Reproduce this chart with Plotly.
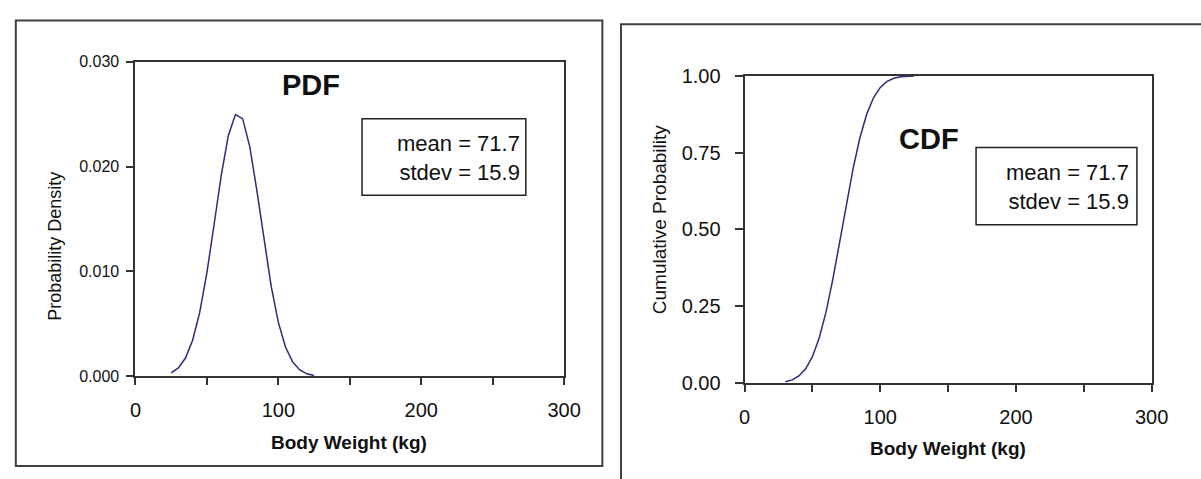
import plotly.graph_objects as go

# ---- data ----
weight_kg = [25, 30, 35, 40, 45, 50, 55, 60, 65, 70, 75, 80, 85, 90, 95, 100, 105, 110, 115, 120, 125]
pdf_vals = [0.00034, 0.00081, 0.00175, 0.00344, 0.00612, 0.00989, 0.01445, 0.01913, 0.02296, 0.02495,
            0.02456, 0.02189, 0.01769, 0.01294, 0.00857, 0.00515, 0.00280, 0.00138, 0.00062, 0.00025, 0.00009]
cdf_weight_kg = [30, 35, 40, 45, 50, 55, 60, 65, 70, 75, 80, 85, 90, 95, 100, 105, 110, 115, 120, 125]
cdf_vals = [0.0044, 0.0105, 0.0231, 0.0466, 0.0861, 0.1468, 0.2309, 0.3369, 0.4574, 0.5822,
            0.6992, 0.7985, 0.8751, 0.9286, 0.9625, 0.9819, 0.9920, 0.9968, 0.9988, 0.9996]

x_tickvals = [0, 50, 100, 150, 200, 250, 300]
x_ticktext = ["0", "", "100", "", "200", "", "300"]
pdf_tickvals = [0.0, 0.010, 0.020, 0.030]
cdf_tickvals = [0.0, 0.25, 0.50, 0.75, 1.00]

stats_text = "mean = 71.7<br>stdev = 15.9"

W, H = 1201, 479
def px(x):
    return x / W
def py(y):
    return 1 - y / H

LINE = "#2b2b78"
AX = "#333333"
FONT = "Liberation Sans, Arial, sans-serif"

fig = go.Figure()
fig.add_trace(go.Scatter(x=weight_kg, y=pdf_vals, mode="lines",
                         line=dict(color=LINE, width=1.5), xaxis="x", yaxis="y",
                         showlegend=False))
fig.add_trace(go.Scatter(x=cdf_weight_kg, y=cdf_vals, mode="lines",
                         line=dict(color=LINE, width=1.5), xaxis="x2", yaxis="y2",
                         showlegend=False))

axis_common = dict(showline=True, mirror=True, linecolor=AX, linewidth=2,
                   showgrid=False, zeroline=False, ticks="outside",
                   tickcolor=AX, tickwidth=2)

fig.update_layout(
    width=W, height=H,
    margin=dict(l=0, r=0, t=0, b=0),
    paper_bgcolor="white", plot_bgcolor="white",
    font=dict(family=FONT, color="#111111"),
    xaxis=dict(domain=[px(132), px(569)], range=[0, 300], anchor="y",
               tickvals=x_tickvals, ticktext=x_ticktext, ticklen=7,
               tickfont=dict(size=20), ticklabelstandoff=8, **axis_common),
    yaxis=dict(domain=[py(383), py(53)], range=[0, 0.03], anchor="x",
               tickvals=pdf_tickvals, tickformat=".3f", ticklen=7,
               tickfont=dict(size=16), ticklabelstandoff=4, **axis_common),
    xaxis2=dict(domain=[px(753), px(1168)], range=[0, 300], anchor="y2",
                tickvals=x_tickvals, ticktext=x_ticktext, ticklen=7,
                tickfont=dict(size=20), ticklabelstandoff=8, **axis_common),
    yaxis2=dict(domain=[py(390), py(68)], range=[0, 1], anchor="x2",
                tickvals=cdf_tickvals, tickformat=".2f", ticklen=8,
                tickfont=dict(size=20), ticklabelstandoff=10, **axis_common),
)

shapes = [
    # outer chart frames
    dict(type="rect", xref="paper", yref="paper", x0=px(10), x1=px(608), y0=py(477), y1=py(10),
         line=dict(color="#404040", width=2)),
    dict(type="rect", xref="paper", yref="paper", x0=px(627), x1=1.2, y0=-0.2, y1=py(14),
         line=dict(color="#404040", width=2)),
    # stats boxes
    dict(type="rect", xref="paper", yref="paper", x0=px(363), x1=px(530), y0=py(193), y1=py(113),
         line=dict(color="#222222", width=1.5)),
    dict(type="rect", xref="paper", yref="paper", x0=px(989), x1=px(1153), y0=py(224), y1=py(143),
         line=dict(color="#222222", width=1.5)),
]
fig.update_layout(shapes=shapes)

ann = []
def A(text, x, y, size, bold=False, xanchor="center", angle=0, align="center"):
    ann.append(dict(text=f"<b>{text}</b>" if bold else text, xref="paper", yref="paper",
                    x=px(x), y=py(y), xanchor=xanchor, yanchor="middle", showarrow=False,
                    textangle=angle, align=align,
                    font=dict(family=FONT, size=size, color="#111111")))

A("PDF", 311, 78, 29, bold=True)
A("CDF", 941, 134, 29, bold=True)
A(stats_text, 526, 154, 22, xanchor="right", align="right")
A(stats_text, 1147, 184, 22, xanchor="right", align="right")
A("Body Weight (kg)", 350, 452, 19, bold=True)
A("Body Weight (kg)", 960, 459, 19, bold=True)
A("Probability Density", 50, 247, 18, angle=-90)
A("Cumulative Probability", 667, 218, 19, angle=-90)
fig.update_layout(annotations=ann)

fig.write_html("out.html",
               config={"displayModeBar": False, "staticPlot": True},
               post_script="document.body.style.margin='0';document.body.style.overflow='hidden';")
